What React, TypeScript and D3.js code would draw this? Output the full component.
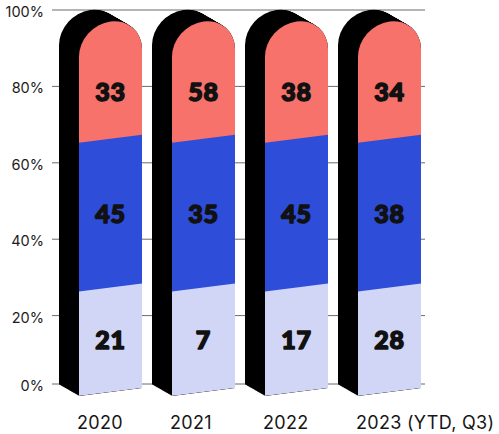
import React from 'react';
import * as d3 from 'd3';

const categories = ['2020', '2021', '2022', '2023 (YTD, Q3)'];
const bottomValues = [21, 7, 17, 28];
const middleValues = [45, 35, 45, 38];
const topValues = [33, 58, 38, 34];
const yTicks = [0, 20, 40, 60, 80, 100];
// drawn segment edges (in % of the axis), as they appear in the picture
const segmentEdges = [0, 27.5, 66.4, 97];
const colors = ['#D1D6F6', '#2E4DD8', '#F7726A'];

const W = 499;
const H = 434;

export default function App() {
  const x = d3
    .scaleBand<string>()
    .domain(categories)
    .range([79, 421])
    .paddingInner(30 / 93)
    .paddingOuter(0);
  const y = d3.scaleLinear().domain([0, 100]).range([392, 10]);
  const yAxis = d3.scaleLinear().domain([0, 20, 100]).range([384, y(20), 10]);

  const bw = x.bandwidth();
  const r = bw / 2;
  const skewDeg = (Math.atan(-8 / 63) * 180) / Math.PI;
  const top = y(segmentEdges[3]);
  const facePath = `M${-r},${y(0)} L${-r},${top + r} A${r},${r} 0 0 1 ${r},${top + r} L${r},${y(0)} Z`;
  const depth = [-20, -11.5];
  const steps = d3.range(0, 1.0001, 1 / 30);

  return (
    <svg
      width={W}
      height={H}
      style={{ position: 'absolute', left: 0, top: 0, background: '#fff' }}
    >
      <defs>
        <clipPath id="face" clipPathUnits="userSpaceOnUse">
          <path d={facePath} />
        </clipPath>
      </defs>
      {yTicks.map((t) => (
        <g key={t}>
          <line x1={52} x2={425} y1={yAxis(t)} y2={yAxis(t)} stroke="#6b6b6b" strokeWidth={1} />
          <text
            x={44}
            y={yAxis(t) + 1.5}
            textAnchor="end"
            dominantBaseline="central"
            fontFamily="Inter, 'Noto Sans', sans-serif"
            fontSize={14.5}
            fill="#1c1c1c"
          >
            {t}%
          </text>
        </g>
      ))}
      {categories.map((c, j) => {
        const cx = (x(c) as number) + r;
        const vals = [bottomValues[j], middleValues[j], topValues[j]];
        return (
          <g key={c}>
            {steps.map((s, k) => (
              <g
                key={k}
                transform={`translate(${cx + s * depth[0]},${s * depth[1]}) skewY(${skewDeg})`}
              >
                <path d={facePath} fill="#000" />
              </g>
            ))}
            <g transform={`translate(${cx},0) skewY(${skewDeg})`}>
              <g clipPath="url(#face)">
                {colors.map((col, i) => {
                  const lo = segmentEdges[i];
                  const hi = i === 2 ? 100 : segmentEdges[i + 1];
                  return (
                    <rect
                      key={i}
                      x={-r}
                      width={bw}
                      y={y(hi) - 0.5}
                      height={y(lo) - y(hi) + 1}
                      fill={col}
                    />
                  );
                })}
              </g>
            </g>
            {vals.map((v, i) => {
              const lo = segmentEdges[i];
              const hi = i === 2 ? segmentEdges[3] - 6 : segmentEdges[i + 1];
              return (
                <text
                  key={i}
                  x={cx}
                  y={y((lo + hi) / 2)}
                  textAnchor="middle"
                  dominantBaseline="central"
                  fontFamily="Lato, Inter, sans-serif"
                  fontWeight={900}
                  fontSize={25}
                  fill="#111"
                  stroke="#111"
                  strokeWidth={1.5}
                  strokeLinejoin="round"
                  letterSpacing={0.8}
                >
                  {v}
                </text>
              );
            })}
            <text
              x={(x(c) as number) - 2}
              y={429}
              fontFamily="Inter, 'Noto Sans', sans-serif"
              fontSize={18}
              letterSpacing={0.3}
              fill="#161616"
            >
              {c}
            </text>
          </g>
        );
      })}
    </svg>
  );
}
